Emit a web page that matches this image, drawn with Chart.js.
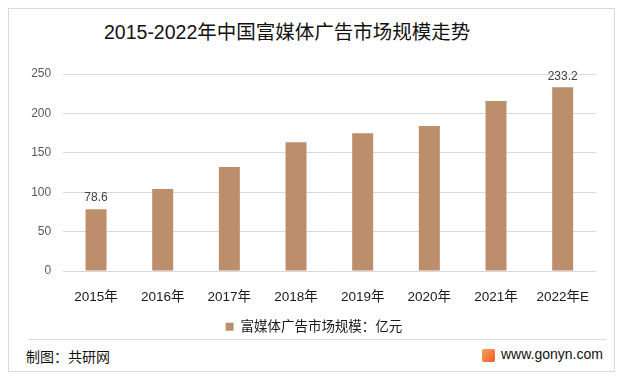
<!DOCTYPE html>
<html>
<head>
<meta charset="utf-8">
<script src="https://cdn.jsdelivr.net/npm/chart.js@4"></script>
<style>
  html, body { margin: 0; padding: 0; background: #fff; }
  body { width: 623px; height: 378px; position: relative; overflow: hidden;
         font-family: "Liberation Sans", "Noto Sans CJK SC", sans-serif; }
  .frame { position: absolute; left: 8px; top: 8px; width: 605px; height: 362px; border: 1px solid #d9d9d9; }
  .title { position: absolute; left: 104px; top: 16px; font-size: 19.5px; color: #111; white-space: nowrap; }
  .sep { position: absolute; left: 28px; top: 339px; width: 578px; height: 1px; background: #d9d9d9; }
  .source { position: absolute; left: 26px; top: 346px; font-size: 14px; color: #111; }
  .site { position: absolute; left: 501px; top: 346px; font-size: 14px; color: #111; }
  .logo { position: absolute; left: 482px; top: 349px; width: 13px; height: 13px;
          background: linear-gradient(135deg, #f7a35c, #f05a28); border-radius: 2px; }
  canvas { position: absolute; left: 0; top: 0; }
</style>
</head>
<body>
<div class="frame"></div>
<div class="title">2015-2022年中国富媒体广告市场规模走势</div>
<div class="sep"></div>
<div class="source">制图：共研网</div>
<div class="logo"></div>
<div class="site">www.gonyn.com</div>
<canvas id="chart" width="623" height="378"></canvas>
<script>
const years = ["2015年", "2016年", "2017年", "2018年", "2019年", "2020年", "2021年", "2022年E"];
const marketSize = [78.6, 104, 132, 163.5, 175, 184, 215.8, 233.2];
const labelledBars = [0, 7];
const seriesName = "富媒体广告市场规模：亿元";

const BAR_COLOR = "#bd8e6c";

// value labels only on first and last bar
const endLabels = {
  id: 'endLabels',
  afterDatasetsDraw(chart) {
    const ctx = chart.ctx;
    const meta = chart.getDatasetMeta(0);
    ctx.save();
    ctx.font = '12px "Liberation Sans", sans-serif';
    ctx.fillStyle = '#404040';
    ctx.textAlign = 'center';
    ctx.textBaseline = 'bottom';
    labelledBars.forEach(i => {
      const bar = meta.data[i];
      ctx.fillText(String(marketSize[i]), bar.x, bar.y - 5);
    });
    ctx.restore();
  }
};

// legend sits a bit right of the canvas centre in the original
const nudgeLegend = {
  id: 'nudgeLegend',
  afterLayout(chart) {
    if (chart.legend) {
      chart.legend.left += 16;
      chart.legend.right += 16;
    }
  }
};

new Chart(document.getElementById('chart').getContext('2d'), {
  type: 'bar',
  data: {
    labels: years,
    datasets: [{
      label: seriesName,
      data: marketSize,
      backgroundColor: BAR_COLOR,
      barPercentage: 0.315,
      categoryPercentage: 1
    }]
  },
  options: {
    responsive: false,
    animation: false,
    layout: {
      padding: { top: 74, right: 27, bottom: 34.4, left: 0 }
    },
    plugins: {
      title: { display: false },
      tooltip: { enabled: false },
      legend: {
        position: 'bottom',
        labels: {
          boxWidth: 8,
          boxHeight: 8,
          padding: 8,
          color: '#1a1a1a',
          font: { size: 13.5, family: '"Liberation Sans", "Noto Sans CJK SC", sans-serif' }
        }
      }
    },
    scales: {
      x: {
        grid: { display: false },
        border: { display: false },
        afterFit(scale) { scale.height = 41; },
        ticks: {
          padding: 10.5,
          color: '#1a1a1a',
          maxRotation: 0,
          font: { size: 13.5, family: '"Liberation Sans", "Noto Sans CJK SC", sans-serif' }
        }
      },
      y: {
        min: 0,
        max: 250,
        afterFit(scale) { scale.width = 62.7; },
        grid: { color: '#d9d9d9', drawTicks: false },
        border: { display: false },
        ticks: {
          stepSize: 50,
          padding: 11.5,
          color: '#595959',
          font: { size: 12, family: '"Liberation Sans", sans-serif' }
        }
      }
    }
  },
  plugins: [endLabels, nudgeLegend]
});
</script>
</body>
</html>
